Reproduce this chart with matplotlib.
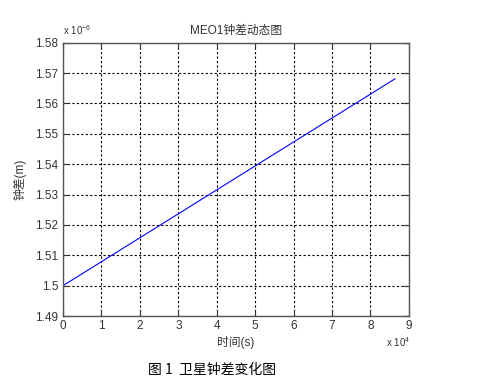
import numpy as np
import matplotlib.pyplot as plt
from matplotlib.ticker import FuncFormatter, MultipleLocator

plt.rcParams['font.family'] = ['Liberation Sans', 'Noto Sans CJK SC', 'DejaVu Sans']

# clock bias over one day (s, m)
t = [0, 86400]
bias = [1.5e-6, 1.5681e-6]

title = 'MEO1钟差动态图'
xlabel = '时间(s)'
ylabel = '钟差(m)'
caption = '图 1  卫星钟差变化图'

fig = plt.figure(figsize=(4.85, 3.81), dpi=100)
ax = fig.add_axes([0.130, 0.1706, 0.713, 0.7174])

ax.plot(t, bias, color='#0000ff', lw=0.8)

ax.set_xlim(0, 9e4)
ax.set_ylim(1.49e-6, 1.58e-6)
ax.xaxis.set_major_locator(MultipleLocator(1e4))
ax.yaxis.set_major_locator(MultipleLocator(0.01e-6))
ax.xaxis.set_major_formatter(FuncFormatter(lambda v, p: f'{v / 1e4:g}'))
ax.yaxis.set_major_formatter(FuncFormatter(lambda v, p: f'{v / 1e-6:g}'))

ax.tick_params(direction='in', length=4, width=0.8, labelsize=8.5,
               top=True, right=True, colors='#333333')
ax.tick_params(axis='x', pad=3)
ax.grid(True, color='black', linestyle=(0, (2, 2)), linewidth=0.8)
for s in ax.spines.values():
    s.set_color('#555555')
    s.set_linewidth(1.0)

ax.set_title(title, fontsize=8.5, color='#333333', pad=6)
ax.set_xlabel(xlabel, fontsize=8.5, color='#333333', labelpad=3)
ax.set_ylabel(ylabel, fontsize=8.5, color='#333333', labelpad=6)

fig.text(0.130, 0.903, r'x 10$^{\mathregular{-6}}$', fontsize=7, color='#333333',
         ha='left', va='bottom')
fig.text(0.845, 0.085, r'x 10$^{\mathregular{4}}$', fontsize=7, color='#333333',
         ha='right', va='bottom')
fig.text(0.437, 0.028, caption, fontsize=10, color='black', ha='center', va='center',
         family=['Noto Sans CJK SC', 'DejaVu Sans'])

plt.savefig('out.png', dpi=100)
